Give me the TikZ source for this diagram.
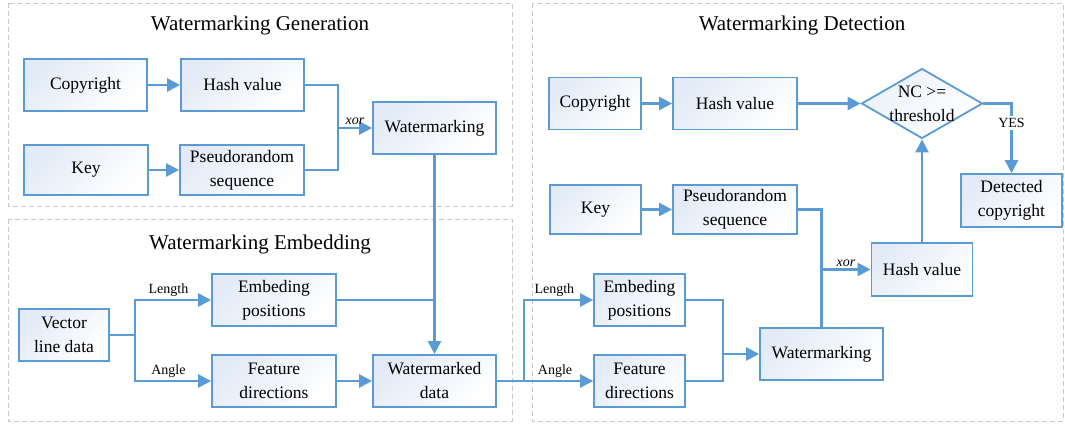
\documentclass[tikz,border=0pt]{standalone}
\usepackage{fontspec}
\setmainfont{Liberation Serif}
\usetikzlibrary{shapes.geometric,arrows.meta}
\definecolor{lineblue}{HTML}{5B9BD5}
\definecolor{boxtint}{HTML}{D3E0F2}
\definecolor{panelgray}{HTML}{C8C8C8}

\begin{document}
\begin{tikzpicture}
    [x=1pt,y=-1pt,
     box/.style={draw=lineblue, line width=1.8pt, rectangle, top color=boxtint!65, bottom color=white, shading angle=45,
                 minimum height=52pt, inner sep=0pt, align=center, font=\fontsize{17.5}{24}\selectfont},
     conn/.style={color=lineblue, line width=2.5pt},
     arr/.style={-{Triangle[length=13pt,width=13pt]}},
     lbl/.style={text=black, font=\fontsize{14}{16}\selectfont, inner sep=2pt},
     ttl/.style={font=\fontsize{21}{24}\selectfont},
     panel/.style={draw=panelgray, line width=1pt, dash pattern=on 5pt off 3pt}]
  \useasboundingbox (0,0) rectangle (1065,423);

  % frames
  \draw[panel] (8,3) rectangle (512,206);
  \draw[panel] (8,219) rectangle (512,421);
  \draw[panel] (532,3) rectangle (1063,421);

  \node[ttl] (tgen) at (260,25) {Watermarking Generation};
  \node[ttl] (temb) at (260,244) {Watermarking Embedding};
  \node[ttl] (tdet) at (802,25) {Watermarking Detection};

  % generation
  \node[box, minimum width=123pt] (cr1) at (85.5,85) {Copyright};
  \node[box, minimum width=123pt] (hv1) at (242.5,85) {Hash value};
  \node[box, minimum width=124pt, minimum height=50pt] (key1) at (86,170) {Key};
  \node[box, minimum width=124pt, minimum height=50pt] (pr1) at (242,170) {Pseudorandom\\sequence};
  \node[box, minimum width=123pt] (wm1) at (434.5,128) {Watermarking};

  % embedding
  \node[box, minimum width=90pt] (vl) at (64,335) {Vector\\line data};
  \node[box, minimum width=124pt] (ep1) at (274,300) {Embeding\\positions};
  \node[box, minimum width=124pt] (fd1) at (274,381) {Feature\\directions};
  \node[box, minimum width=123pt] (wd) at (434.5,381) {Watermarked\\data};

  % detection
  \node[box, minimum width=92pt] (cr2) at (595,103.5) {Copyright};
  \node[box, minimum width=124pt] (hv2) at (735,103.5) {Hash value};
  \node[diamond, draw=lineblue, line width=1.8pt, top color=boxtint!45, bottom color=white, shading angle=45,
        minimum width=121pt, minimum height=70pt, inner sep=0pt,
        label={[align=center, font=\fontsize{17.5}{24}\selectfont]center:{NC >=\\threshold}}] (nc) at (922,103.5) {};
  \node[box, minimum width=101pt, minimum height=53pt] (dc) at (1011.5,200.5) {Detected\\copyright};
  \node[box, minimum width=91pt, minimum height=49pt] (key2) at (595.5,209.5) {Key};
  \node[box, minimum width=124pt, minimum height=49pt] (pr2) at (735,209.5) {Pseudorandom\\sequence};
  \node[box, minimum width=101pt, minimum height=53pt] (hv3) at (922,269.5) {Hash value};
  \node[box, minimum width=91pt] (ep2) at (639.5,300) {Embeding\\positions};
  \node[box, minimum width=91pt] (fd2) at (639.5,381) {Feature\\directions};
  \node[box, minimum width=123pt] (wm2) at (821.5,354) {Watermarking};

  \coordinate (xj1) at (338,128);
  \coordinate (vb) at (135,335);
  \coordinate (db) at (524,381);
  \coordinate (jn) at (723,354);
  \coordinate (xj2) at (821.5,269.5);

  \foreach \from/\to in {cr1/hv1, key1/pr1, wm1/wd, fd1/wd, jn/wm2, cr2/hv2, hv2/nc, key2/pr2, hv3/nc}
    \draw[conn] (\from) edge[arr] (\to);

  \draw[conn] (hv1) -| (xj1) |- (pr1);
  \draw[conn] (xj1) edge[arr] node[lbl, above, font=\fontsize{14}{16}\selectfont\itshape] {xor} (wm1);
  \draw[conn] (vl) -- (vb);
  \draw[conn] (vb) edge[arr, to path={|- (\tikztotarget) \tikztonodes}] node[lbl, above, pos=0.72] {Length} (ep1);
  \draw[conn] (vb) edge[arr, to path={|- (\tikztotarget) \tikztonodes}] node[lbl, above, pos=0.72] {Angle} (fd1);
  \draw[conn] (ep1) -- (ep1 -| wd);

  \draw[conn] (wd) -- (db);
  \draw[conn] (db) edge[arr, to path={|- (\tikztotarget) \tikztonodes}] node[lbl, above, pos=0.72] {Length} (ep2);
  \draw[conn] (db) edge[arr] node[lbl, above, pos=0.45] {Angle} (fd2);
  \draw[conn] (ep2) -| (jn) |- (fd2);
  \draw[conn] (pr2) -| (wm2);
  \draw[conn] (xj2) edge[arr] node[lbl, above, font=\fontsize{14}{16}\selectfont\itshape] {xor} (hv3);
  \draw[conn] (nc) edge[arr, to path={-| (\tikztotarget) \tikztonodes}] node[lbl, pos=0.64, fill=white] {YES} (dc);
\end{tikzpicture}
\end{document}
